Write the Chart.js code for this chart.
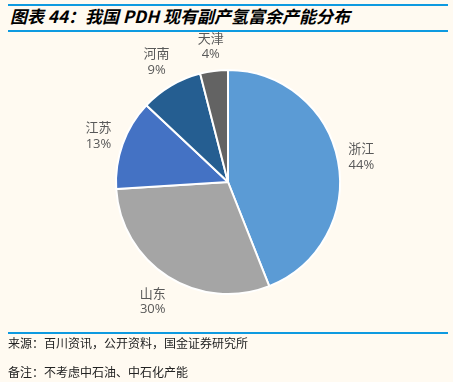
<!DOCTYPE html>
<html>
<head>
<meta charset="utf-8">
<script src="https://cdn.jsdelivr.net/npm/chart.js@4/dist/chart.umd.min.js"></script>
<style>
  html, body { margin:0; padding:0; background:#FFFAF1; }
  #wrap { position:relative; width:453px; height:382px; overflow:hidden; background:#FFFAF1; }
  .line { position:absolute; left:8px; width:440px; height:2px; background:#0E9AE0; }
  #title { position:absolute; left:10px; top:4px; font-family:"Noto Sans CJK SC","Noto Sans",sans-serif; font-weight:bold; font-style:italic; font-size:17px; color:#000; line-height:24px; white-space:nowrap; }
  .foot { position:absolute; left:8px; font-family:"Noto Sans CJK SC",sans-serif; font-size:12px; color:#222; line-height:16px; white-space:nowrap; }
  canvas { position:absolute; left:0; top:0; }
</style>
</head>
<body>
<div id="wrap">
  <div class="line" style="top:4px"></div>
  <div id="title">图表 44：我国 PDH 现有副产氢富余产能分布</div>
  <div class="line" style="top:30px"></div>
  <canvas id="c" width="453" height="382"></canvas>
  <div class="line" style="top:332px"></div>
  <div class="foot" style="top:335px">来源：百川资讯，公开资料，国金证券研究所</div>
  <div class="foot" style="top:364px">备注：不考虑中石油、中石化产能</div>
</div>
<script>
const categories = ["浙江", "山东", "江苏", "河南", "天津"];
const shares = [44, 30, 13, 9, 4];
const sliceColors = ["#5B9BD5", "#A5A5A5", "#4472C4", "#255E91", "#636363"];

const outsideLabels = {
  id: "outsideLabels",
  afterDatasetsDraw(chart) {
    const ctx = chart.ctx;
    const meta = chart.getDatasetMeta(0);
    const total = shares.reduce((a, b) => a + b, 0);
    ctx.save();
    ctx.fillStyle = "#595959";
    ctx.textAlign = "center";
    ctx.textBaseline = "middle";
    meta.data.forEach((arc, i) => {
      const p = arc.getProps(["x", "y", "startAngle", "endAngle", "outerRadius"], true);
      const mid = (p.startAngle + p.endAngle) / 2;
      const cx = Math.cos(mid), sy = Math.sin(mid);
      const name = categories[i];
      const pct = Math.round(shares[i] / total * 100) + "%";
      ctx.font = '13px "Noto Sans CJK SC", sans-serif';
      const w1 = ctx.measureText(name).width;
      ctx.font = '13px "Open Sans", sans-serif';
      const w2 = ctx.measureText(pct).width;
      const w = Math.max(w1, w2), h = 32;
      const dist = p.outerRadius + 8 + Math.abs(cx) * w / 2 + Math.abs(sy) * h / 2;
      const lx = p.x + cx * dist, ly = p.y + sy * dist;
      ctx.font = '13px "Noto Sans CJK SC", sans-serif';
      ctx.fillText(name, lx, ly - 8);
      ctx.font = '13px "Open Sans", sans-serif';
      ctx.fillText(pct, lx, ly + 9);
    });
    ctx.restore();
  }
};

new Chart(document.getElementById("c"), {
  type: "pie",
  data: {
    labels: categories,
    datasets: [{
      data: shares,
      backgroundColor: sliceColors,
      borderColor: "#FFFFFF",
      borderWidth: 2,
      hoverOffset: 0,
      radius: 112
    }]
  },
  options: {
    responsive: false,
    animation: false,
    events: [],
    layout: { padding: { left: 60, right: 57, top: 60, bottom: 78 } },
    plugins: { legend: { display: false }, tooltip: { enabled: false } }
  },
  plugins: [outsideLabels]
});
</script>
</body>
</html>
